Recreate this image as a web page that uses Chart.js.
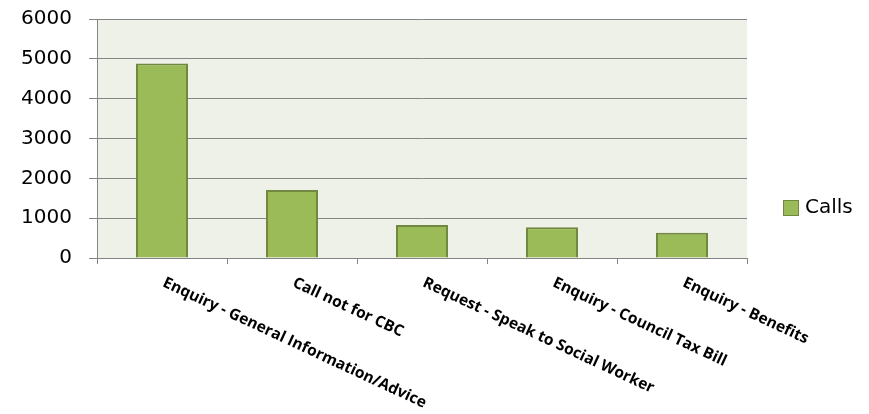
<!DOCTYPE html>
<html>
<head>
<meta charset="utf-8">
<script src="https://cdn.jsdelivr.net/npm/chart.js@4/dist/chart.umd.min.js"></script>
<style>
  html, body { margin: 0; padding: 0; background: #fff; }
  #wrap { width: 869px; height: 414px; }
</style>
</head>
<body>
<div id="wrap"><canvas id="calls-chart"></canvas></div>
<script>
const categories = [
    'Enquiry - General Information/Advice',
    'Call not for CBC',
    'Request - Speak to Social Worker',
    'Enquiry - Council Tax Bill',
    'Enquiry - Benefits'
];
const calls = [4880, 1710, 830, 770, 635];
const yTicks = [0, 1000, 2000, 3000, 4000, 5000, 6000];

const FILL = '#9BBB59';
const EDGE = '#71893F';
const GRID = '#858585';

// plot background
const plotBg = {
    id: 'plotBg',
    beforeDraw(chart) {
        const a = chart.chartArea, ctx = chart.ctx;
        ctx.save();
        ctx.fillStyle = '#EEF1E8';
        ctx.fillRect(a.left, a.top, a.right - a.left, a.bottom - a.top);
        ctx.restore();
    }
};

// slanted category labels + legend on the right
const extras = {
    id: 'extras',
    afterDraw(chart) {
        const ctx = chart.ctx, x = chart.scales.x, a = chart.chartArea;
        ctx.save();
        ctx.fillStyle = '#000';
        ctx.font = 'bold 15.5px "Open Sans"';
        ctx.textAlign = 'left';
        ctx.textBaseline = 'top';
        categories.forEach((c, i) => {
            ctx.save();
            ctx.translate(x.getPixelForValue(i) + 5, a.bottom + 17);
            ctx.rotate(25 * Math.PI / 180);
            ctx.fillText(c, 0, 0);
            ctx.restore();
        });

        // legend
        const ds = chart.data.datasets[0];
        ctx.fillStyle = FILL;
        ctx.strokeStyle = EDGE;
        ctx.lineWidth = 1;
        ctx.fillRect(783, 200, 15, 15);
        ctx.strokeRect(783.5, 200.5, 15, 15);
        ctx.fillStyle = '#000';
        ctx.font = '20px "DejaVu Sans"';
        ctx.textBaseline = 'middle';
        ctx.fillText(ds.label, 805, 208);
        ctx.restore();
    }
};

new Chart(document.getElementById('calls-chart'), {
    type: 'bar',
    data: {
        labels: categories,
        datasets: [{
            label: 'Calls',
            data: calls,
            backgroundColor: FILL,
            borderColor: EDGE,
            borderWidth: 2,
            barPercentage: 0.4,
            categoryPercentage: 1.0
        }]
    },
    options: {
        responsive: true,
        maintainAspectRatio: false,
        animation: false,
        layout: { padding: { left: 0, right: 122, top: 19, bottom: 0 } },
        plugins: {
            legend: { display: false },
            tooltip: { enabled: false }
        },
        scales: {
            x: {
                grid: {
                    offset: true,
                    drawOnChartArea: false,
                    drawTicks: true,
                    tickLength: 6,
                    color: GRID
                },
                border: { color: GRID, width: 1 },
                ticks: { display: false },
                afterFit(scale) { scale.height = 414 - 258; }
            },
            y: {
                min: 0,
                max: 6000,
                afterBuildTicks(scale) { scale.ticks = yTicks.map(v => ({ value: v })); },
                grid: { color: GRID, tickLength: 8, drawTicks: true },
                border: { color: GRID, width: 1 },
                ticks: {
                    color: '#000',
                    padding: 17,
                    font: { family: 'DejaVu Sans', size: 20 },
                    callback: v => String(v)
                },
                afterFit(scale) {
                    scale.width = 97;
                    scale.paddingTop = 0;
                    scale.paddingBottom = 0;
                }
            }
        }
    },
    plugins: [plotBg, extras]
});
</script>
</body>
</html>
